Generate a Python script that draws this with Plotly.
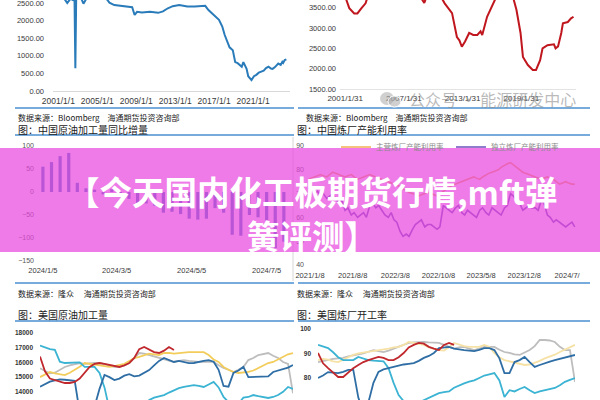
import plotly.graph_objects as go
import pandas as pd

W, H = 600, 400
def px(x): return x / W
def py(y): return 1 - y / H

# ---------------- data ----------------
# top-left: blue series (2001-2024)
tl_dates = ["2001-01","2001-09","2001-12","2002-04","2002-09","2002-10","2002-11","2003-04","2003-08","2003-11",
            "2004-06","2005-06","2006-01","2006-04","2006-10","2007-06","2008-01","2008-08","2008-11","2009-02",
            "2009-08","2010-06","2011-04","2011-10","2012-04","2012-10","2013-06","2014-04","2015-01","2015-10",
            "2016-02","2016-06","2017-01","2017-07","2017-11","2018-02","2018-08","2018-12","2019-03","2019-06",
            "2019-11","2020-01","2020-05","2020-07","2020-11","2021-02","2021-05","2021-08","2021-11","2022-02",
            "2022-05","2022-08","2022-11","2023-01","2023-04","2023-08","2023-11","2024-01","2024-02","2024-04","2024-06"]
tl_values = [2750,2600,2500,2620,2560,650,2600,2700,2480,2600,
             2720,2680,2600,2510,2440,2420,2400,2380,2160,2250,
             2230,2250,2220,2260,2350,2410,2440,2400,2400,2410,
             2420,2300,2160,2020,1830,1590,1240,1160,820,790,
             690,820,630,420,310,420,460,520,550,580,
             650,690,640,630,680,780,740,830,800,880,900]
tl_ticks = ["2001-01-01","2005-01-01","2009-01-01","2013-01-01","2017-01-01","2021-01-01"]
tl_ticktext = ["2001/1/1","2005/1/1","2009/1/1","2013/1/1","2017/1/1","2021/1/1"]

# top-right: red series (2001-2024)
tr_dates = ["2001-03","2001-07","2002-01","2002-05","2002-10","2003-03","2003-06","2004-06","2006-01","2007-06",
            "2008-06","2009-03","2009-08","2010-06","2010-12","2011-04","2012-01","2012-04","2012-07","2012-10",
            "2013-01","2013-05","2013-10","2014-03","2014-08","2014-12","2015-02","2015-08","2016-02","2016-08",
            "2017-06","2018-04","2018-08","2019-01","2019-04","2019-10","2020-04","2020-08","2021-01","2021-04",
            "2021-10","2022-06","2022-08","2022-11","2023-03","2023-05","2023-11","2024-03","2024-06"]
tr_values = [3720,3490,3360,3360,3490,3610,3800,4100,4000,4100,
             3900,3620,3900,4000,3750,3610,3370,3030,2780,2700,
             2540,2670,2880,2830,2830,2920,2830,3280,3570,3800,
             3950,3750,3450,2880,2290,2090,1970,1970,2210,2500,
             2580,2600,2500,2550,2880,3120,3150,3240,3280]
tr_ticks = ["2001-01-31","2007-01-31","2013-01-31","2019-01-31"]
tr_ticktext = ["2001/1/31","2007/1/31","2013/1/31","2019/1/31"]

# middle-left: weekly bars 2024
ml_dates = pd.date_range("2024-01-05", periods=29, freq="7D")
ml_values = [55,65,78,85,20,8,5,-5,6,-8,-15,-25,-25,-30,-45,-43,-48,-58,-60,-58,
             -35,-45,-93,-95,-50,-55,-62,-122,-108]
ml_ticks = ["2024-01-05","2024-03-05","2024-05-05","2024-07-05"]
ml_ticktext = ["2024/1/5","2024/3/5","2024/5/5","2024/7/5"]

# middle-right: utilisation rates (semi-monthly)
mr_dates = pd.date_range("2021-01-01", periods=88, freq="SMS")
mr_main = [76,76.5,77,77.5,78,77.5,77,78,79,78.5, 78,77.5,77,77.5,78,77,76,76.5,77,77.5,
           78,77.5,77,76.5,76,75.5,75,74.5,74,73.5, 73,72,71,70.5,70,69.5,69,69.5,70,70.5,
           70,69.5,69,70,71,72,73,73.5,74,74.5, 75,75.5,76,76.5,77,76.5,76,77,78,78.5,
           79,79.5,80,81,82,82.5,83,82,81,80, 79,78.5,78,77.5,77,76.5,76,76.5,77,76.5,
           76,75,74,74.5,75,74.5,74,74]
mr_indep = [72,73,70,71,69,70,68,69,70,68, 66,67,63,64,61,62,60,61,62,60,
            65,66,64,65,63,61,60,62,59,58, 54,52,53,52,55,57,58,59,56,57,
            57,56,55,56,65,64,63,62,64,65, 62,61,63,62,61,60,63,64,62,61,
            64,63,62,61,64,65,70,69,67,66, 63,64,65,64,64,63,67,66,61,60,
            58,59,58,57,56,57,58,56]
mr_ticks = ["2021-01-08","2021-08-08","2022-03-08","2022-10-08","2023-05-08","2023-12-08","2024-07-08"]
mr_ticktext = ["2021/1/8","2021/8/8","2022/3/8","2022/10/8","2023/5/8","2023/12/8","2024/7/"]

# bottom: seasonal weekly lines
weeks = list(range(1, 53))
bl_cyan = [17150,17000,16900,16850,16050,15960,15960,15980,16000,15700,15690,15690,15280,14300,12800,12300,
           12000,11800,11900,12200,12600,13000,13440,13600,13700,13780,13950,14100,14250,14330,14400,14460,
           14400,14330,14500,14670,14300,13650,13300,13000,13200,13600,13650,13780,13700,13650,13580,13650,
           13780,14000,14330,14200]
bl_blue = [14350,14500,14690,14780,14840,14820,14800,14750,12600,12000,12100,13000,14200,15150,15000,14800,
           14900,15100,15200,15050,15100,15300,15480,15800,16100,16300,16150,16030,16100,16000,15950,15960,
           16050,16100,16150,16050,15500,14400,14350,15280,15450,15690,15000,15000,15050,15000,15050,15350,
           15450,15600,15650,15820]
bl_red = [16400,15400,14900,14800,14700,14600,14600,14670,14900,15300,15690,15900,15960,15900,15820,15750,
          15690,15800,15960,16300,16900,17050,16900,16700,16640,16800,17050,16850]
bl_gray = [15600,15400,15250,15300,15500,15690,15800,15900,15960,15900,15950,15960,15960,15900,15800,15700,
           15690,15800,15960,16300,16640,16600,16500,16450,16300,16200,16100,16030,16100,16150,16100,16050,
           16030,16050,16030,16030,15800,15620,15500,15350,15500,15690,16160,16300,16500,16550,16640,16450,
           16300,16030,15900,13900]
bl_yellow = [15000,15200,15350,15250,15200,15140,15300,15480,15700,15960,15900,15850,15800,15750,15700,15750,
             15800,15900,16100,16300,16370,16500,16600,16550,16500,16640,16650,16600,16650,16700,16700,16700,
             16680,16700,16500,16200,16030,15690,15500,15350,15280,15300,15350,15450,15620,15800,15960,16030,
             16200,16370,16550,16640]

br_cyan = [93.5,93,92.2,90.5,88.5,87.3,87.3,87.3,88.6,88,87.3,87.1,86.9,86.8,84,78,73,70,68,69,70,71,72,73,
           73.8,74.2,74.5,76,77,77.8,78.5,79,80,81,81.5,82,79,72.2,75,74.5,75.5,76.3,75,73.8,74.5,75,75.5,75.9,
           77,78.4,79.2,80]
br_blue = [80,81,82.4,82.2,82,82.5,83.3,83.3,72,66,70,78,82.5,83.5,84,84.5,85.3,85.5,85.8,86.1,87,88.2,89,90.2,
           92.2,92.5,92.7,92,91.6,91.4,91.2,91,91.5,92.2,92.2,91.4,88,82,82,86.5,87.3,88.6,86.5,84.5,85.3,86.1,
           86.7,87.3,87.8,88.2,88.8,89.4]
br_red = [90.2,86,84,82,80.4,80.4,82.4,84,85.3,86.5,87.3,88,88.6,88.2,87.3,87.3,88.5,90.2,92.5,93.5,94.3,94,
          92.7,92,91.4,93.5,94.3,93.5]
br_gray = [86.5,87,87.3,87.8,88,88.2,88.8,89.2,89.4,90,90.7,91.4,91,90.6,91.2,92,92.7,93.5,94.3,94.5,94.7,94.7,
           94.5,94.3,94.3,93.5,92.7,92,92.5,92.7,92,91.4,92,92.7,92.7,92.7,91.5,90.6,90.2,89.6,89.4,90.5,91.4,
           93,95.5,95.5,95.3,94.7,92.7,91.4,91.4,78.4]
br_yellow = [87.3,87.8,87.5,86.8,86.5,87.5,88.5,89.4,90,90.3,90.6,91,91.2,91.4,92,92.5,92.7,93.5,94.7,94.3,
             93.8,93.5,92.5,91.8,91.4,91.2,92.5,94.3,93.5,93,92.7,92.7,92.7,93.5,92.7,90.2,88.5,87.3,86.8,86.1,
             85.8,85.3,85.5,86.1,87,88,88.6,89.5,90.6,91.5,92.7,93.5]

# ---------------- figure ----------------
fig = go.Figure()
C_RED, C_BLUE, C_CYAN, C_GRAY, C_YEL = "#c0282d", "#2f6ea5", "#3bb3d3", "#bdbdbd", "#f3cd5c"

fig.add_trace(go.Scatter(x=tl_dates, y=tl_values, mode="lines", line=dict(color="#2a7bb9", width=2),
                         xaxis="x", yaxis="y", showlegend=False))
fig.add_trace(go.Scatter(x=tr_dates, y=tr_values, mode="lines", line=dict(color="#c0161e", width=2),
                         xaxis="x2", yaxis="y2", showlegend=False))
fig.add_trace(go.Bar(x=ml_dates, y=ml_values, marker=dict(color="#4472c4", line_width=0),
                     width=2.6 * 86400000, xaxis="x3", yaxis="y3", showlegend=False))
fig.add_trace(go.Scatter(x=mr_dates, y=mr_main, mode="lines", name="主营炼厂产能利用率",
                         line=dict(color="#f2ad50", width=1.6), xaxis="x4", yaxis="y4"))
fig.add_trace(go.Scatter(x=mr_dates, y=mr_indep, mode="lines", name="独立炼厂产能利用率",
                         line=dict(color="#6a50b8", width=1.6), xaxis="x4", yaxis="y4"))

for vals, col in [(bl_gray, C_GRAY), (bl_yellow, C_YEL), (bl_cyan, C_CYAN), (bl_blue, C_BLUE), (bl_red, C_RED)]:
    fig.add_trace(go.Scatter(x=weeks[:len(vals)], y=vals, mode="lines", line=dict(color=col, width=1.8),
                             xaxis="x5", yaxis="y5", showlegend=False))
for vals, col in [(br_gray, C_GRAY), (br_yellow, "#f6e2a6"), (br_cyan, C_CYAN), (br_blue, C_BLUE), (br_red, C_RED)]:
    fig.add_trace(go.Scatter(x=weeks[:len(vals)], y=vals, mode="lines", line=dict(color=col, width=1.8),
                             xaxis="x6", yaxis="y6", showlegend=False))

TF = dict(family="Liberation Sans", color="#3a3a3a")
def ax(dom, anchor, **kw):
    d = dict(domain=dom, anchor=anchor, showgrid=False, zeroline=False, ticks="", fixedrange=True,
             automargin=False, tickangle=0)
    d.update(kw); return d

fig.update_layout(
    template="none",
    width=W, height=H, autosize=False, margin=dict(l=0, r=0, t=0, b=0, pad=0),
    paper_bgcolor="white", plot_bgcolor="rgba(0,0,0,0)",
    font=dict(family="Liberation Sans", size=8, color="#333"),
    xaxis=ax([px(53), px(290)], "y", type="date", range=["2000-06-15", "2024-10-15"],
             tickvals=tl_ticks, ticktext=tl_ticktext, showline=True, linecolor="#d9d9d9",
             tickfont=dict(size=8.5, **TF), ticklabelstandoff=2),
    yaxis=ax([py(91), 1], "x", range=[0, 2585], tickvals=[0, 500, 1000, 1500, 2000, 2500],
             tickformat=".2f", tickfont=dict(size=7.5, **TF), ticklabelstandoff=8, showline=False),
    xaxis2=ax([px(340), px(576)], "y2", type="date", range=["2000-07-20", "2024-09-01"],
              tickvals=tr_ticks, ticktext=tr_ticktext, showline=True, linecolor="#e3e3e3",
              tickfont=dict(size=8, **TF), ticklabelstandoff=1),
    yaxis2=ax([py(89), 1], "x2", range=[1500, 3692], tickvals=[1500, 2000, 2500, 3000, 3500],
              tickformat=".2f", tickfont=dict(size=7.5, **TF), ticklabelstandoff=3, showline=False),
    xaxis3=ax([px(38), px(290)], "y3", type="date", range=["2024-01-01", "2024-07-24"],
              tickvals=ml_ticks, ticktext=ml_ticktext, tickfont=dict(size=7.5, **TF), ticklabelstandoff=3,
              showline=False),
    yaxis3=ax([py(261), py(146)], "x3", range=[-150, 100], dtick=50, showline=False,
              tickfont=dict(size=7, family="Liberation Sans", color="#555"), ticklabelstandoff=3),
    xaxis4=ax([px(308), px(578)], "y4", type="date", range=["2020-12-29", "2024-08-31"],
              tickvals=mr_ticks, ticktext=mr_ticktext, tickfont=dict(size=7.5, **TF), ticklabelstandoff=4,
              showline=False),
    yaxis4=ax([py(265), py(146)], "x4", range=[40, 90], dtick=10, showline=False,
              tickfont=dict(size=7, family="Liberation Sans", color="#555"), ticklabelstandoff=3),
    xaxis5=ax([px(40), px(293)], "y5", range=[1, 52], showticklabels=False, showline=False),
    yaxis5=ax([0, py(333)], "x5", range=[13444, 18000], tickvals=[14000, 15000, 16000, 17000, 18000],
              tickformat="d", showline=False,
              tickfont=dict(size=6.5, family="Liberation Sans", color="#333", weight="bold"), ticklabelstandoff=6),
    xaxis6=ax([px(318), px(575)], "y6", range=[1, 52], showticklabels=False, showline=False),
    yaxis6=ax([0, py(329)], "x6", range=[71, 100], tickvals=[80, 90, 100], tickformat="d", showline=False,
              tickfont=dict(size=6.5, family="Liberation Sans", color="#333", weight="bold"), ticklabelstandoff=6),
    legend=dict(orientation="h", x=px(336), y=py(147), xanchor="left", yanchor="middle",
                bgcolor="rgba(0,0,0,0)", entrywidth=70, entrywidthmode="pixels",
                font=dict(family="Noto Sans CJK SC", size=7.5, color="#8a8a8a"), tracegroupgap=0),
)

shapes = []
BL = "#4a8fcf"
def hline(y, x0, x1, color=BL, w=1.5):
    shapes.append(dict(type="line", xref="paper", yref="paper", x0=px(x0), x1=px(x1), y0=py(y), y1=py(y),
                       line=dict(color=color, width=w), layer="above"))
for y in (108, 135, 283, 321):
    hline(y, 15, 294)
    hline(y, 298, 590)
shapes.append(dict(type="line", xref="paper", yref="paper", x0=px(293), x1=px(293), y0=py(137), y1=py(281),
                   line=dict(color="#d6d6d6", width=1), layer="above"))
# watermark icon bubbles
shapes.append(dict(type="circle", xref="paper", yref="paper", x0=px(380), x1=px(394), y0=py(105), y1=py(92),
                   fillcolor="rgba(170,170,170,0.55)", line_width=0, layer="above"))
shapes.append(dict(type="circle", xref="paper", yref="paper", x0=px(388), x1=px(401), y0=py(107), y1=py(96),
                   fillcolor="rgba(170,170,170,0.55)", line=dict(color="white", width=1), layer="above"))
# pink banner
shapes.append(dict(type="rect", xref="paper", yref="paper", x0=0, x1=1, y0=py(252), y1=py(148),
                   fillcolor="rgba(232,72,222,0.72)", line_width=0, layer="above"))
fig.update_layout(shapes=shapes)

CJK = "Noto Sans CJK SC"
def note(text, x, y, size, color="#222", anchor="left"):
    fig.add_annotation(text=text, xref="paper", yref="paper", x=px(x), y=py(y), xanchor=anchor,
                       yanchor="middle", showarrow=False, font=dict(family=CJK, size=size, color=color))

note("数据来源：Bloomberg\u3000海通期货投资咨询部", 16, 117, 8)
note("数据来源：Bloomberg\u3000海通期货投资咨询部", 304, 117, 8)
note("图：中国原油加工量同比增量", 16, 129, 10)
note("图：中国炼厂产能利用率", 295, 129, 10)
note("数据来源：隆众\u3000 海通期货投资咨询部", 16, 293, 8)
note("数据来源：隆众\u3000 海通期货投资咨询部", 295, 293, 8)
note("图：美国原油加工量", 16, 314, 10)
note("图：美国炼厂开工率", 295, 314, 10)
note("公众号 · 能源研发中心", 407, 99, 16, color="rgba(140,140,140,0.6)")

note("<b>【今天国内化工板期货行情,mft弹</b>", 312, 190, 32.5, color="white", anchor="center")
note("<b>簧评测】</b>", 312, 234, 32.5, color="white", anchor="center")

fig.write_html("out.html", config={"displayModeBar": False, "responsive": False},
               post_script="document.body.style.margin='0';document.body.style.overflow='hidden';")
